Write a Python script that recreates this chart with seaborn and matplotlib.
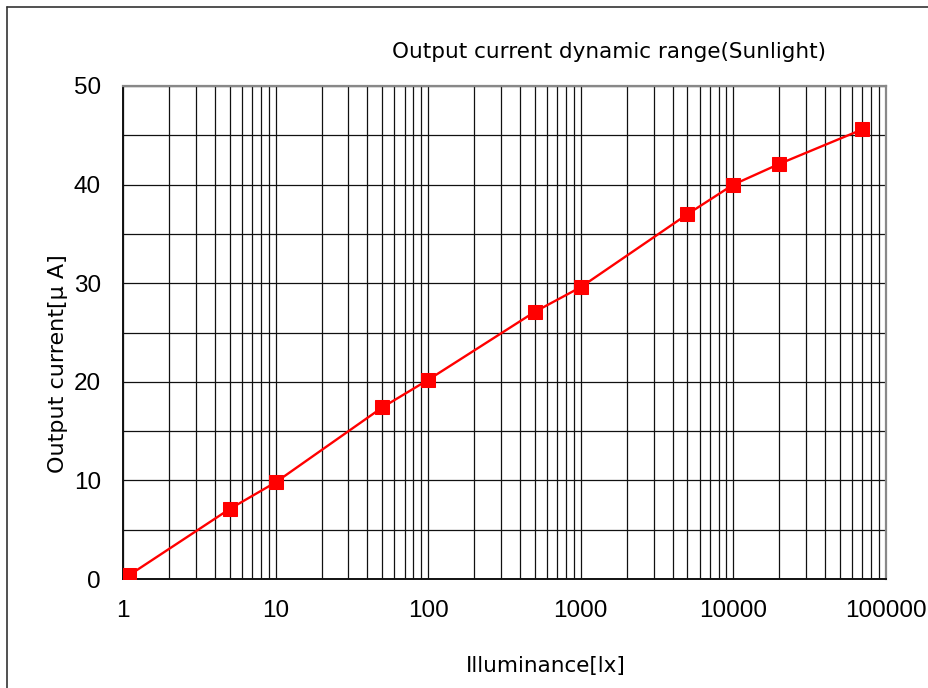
import matplotlib
matplotlib.use("Agg")
import matplotlib.pyplot as plt
from matplotlib.lines import Line2D
from matplotlib.ticker import FixedLocator, NullFormatter, LogLocator
import seaborn as sns
import pandas as pd

# Measured output current versus illuminance
illuminance = [1.1, 5, 10, 50, 100, 500, 1000, 5000, 10000, 20000, 70000]
current_uA = [0.4, 7.1, 9.8, 17.4, 20.2, 27.1, 29.6, 37.0, 40.0, 42.1, 45.6]

x_ticks = [1, 10, 100, 1000, 10000, 100000]
x_tick_labels = ["1", "10", "100", "1000", "10000", "100000"]
y_ticks = [0, 10, 20, 30, 40, 50]

sns.set_style("white")
plt.rcParams["font.family"] = ["Liberation Sans", "DejaVu Sans"]
plt.rcParams["text.color"] = "black"
plt.rcParams["xtick.color"] = "black"
plt.rcParams["ytick.color"] = "black"

df = pd.DataFrame({"lx": illuminance, "uA": current_uA})

fig = plt.figure(figsize=(9.29, 6.88), dpi=100)
ax = fig.add_axes([123 / 929, 1 - 579 / 688, (886 - 123) / 929, (579 - 86) / 688])

sns.lineplot(data=df, x="lx", y="uA", ax=ax, color="#ff0000", lw=1.7,
             marker="s", markersize=10, markeredgecolor="#ff0000",
             markerfacecolor="#ff0000", zorder=5)

ax.set_xscale("log")
ax.set_xlim(1, 100000)
ax.set_ylim(0, 50)

ax.xaxis.set_major_locator(FixedLocator(x_ticks))
ax.set_xticklabels(x_tick_labels)
ax.xaxis.set_minor_locator(LogLocator(base=10, subs=range(2, 10), numticks=20))
ax.xaxis.set_minor_formatter(NullFormatter())
ax.yaxis.set_major_locator(FixedLocator(y_ticks))
ax.yaxis.set_minor_locator(FixedLocator([5, 15, 25, 35, 45]))

ax.grid(True, which="both", axis="both", color="#111111", lw=0.9)
ax.set_axisbelow(True)

ax.tick_params(axis="both", which="both", direction="in", length=3,
               color="#111111", labelsize=17.5, labelcolor="black")
ax.tick_params(axis="x", which="major", pad=15)
ax.tick_params(axis="y", which="major", pad=16)

for side in ["left", "bottom"]:
    ax.spines[side].set_color("#111111")
    ax.spines[side].set_linewidth(1.4)
for side in ["top", "right"]:
    ax.spines[side].set_color("#888888")
    ax.spines[side].set_linewidth(1.6)

ax.set_xlabel("")
ax.set_ylabel("")

label_font = ["DejaVu Sans"]
fig.text(609 / 929, 1 - 52 / 688, "Output current dynamic range(Sunlight)",
         ha="center", va="center", fontsize=15.5, family=label_font, color="black")
fig.text(546 / 929, 1 - 666 / 688, "Illuminance[lx]",
         ha="center", va="center", fontsize=15.5, family=label_font, color="black")
fig.text(58 / 929, 1 - 364 / 688, "Output current[μ A]",
         ha="center", va="center", rotation=90, fontsize=16, family=label_font,
         color="black")

# Outer frame around the chart area
fig.add_artist(Line2D([7 / 929, 7 / 929], [0, 1 - 7 / 688],
                      transform=fig.transFigure, color="#333333", lw=1.2))
fig.add_artist(Line2D([7 / 929, 1], [1 - 7 / 688, 1 - 7 / 688],
                      transform=fig.transFigure, color="#333333", lw=1.2))

fig.savefig("out.png", dpi=100)
